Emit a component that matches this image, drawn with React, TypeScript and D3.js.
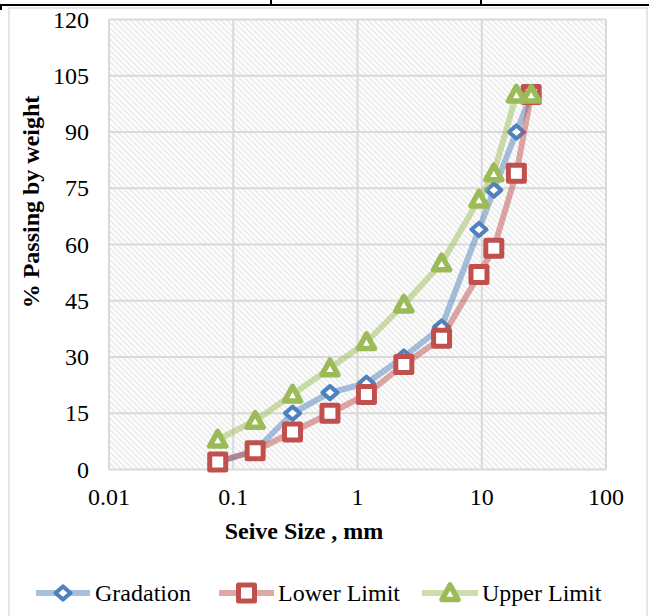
import React from "react";
import * as d3 from "d3";

const sieveSizes = [0.075, 0.15, 0.3, 0.6, 1.18, 2.36, 4.75, 9.5, 12.5, 19, 25];
const gradation = [2, 5, 15, 20.5, 23, 30, 38, 64, 74.5, 90, 100];
const lowerLimit = [2, 5, 10, 15, 20, 28, 35, 52, 59, 79, 100];
const upperLimit = [8, 13, 20, 27, 34, 44, 55, 72, 79, 100, 100];
const yTicks = [0, 15, 30, 45, 60, 75, 90, 105, 120];
const xTicks = [0.01, 0.1, 1, 10, 100];
const xTickLabels = ["0.01", "0.1", "1", "10", "100"];
const seriesNames = ["Gradation", "Lower Limit", "Upper Limit"];
const seriesColors = ["#4f81bd", "#c0504d", "#9bbb59"];
const seriesShapes = ["diamond", "square", "triangle"];

const W = 649;
const H = 616;
const plot = { left: 109, right: 606, top: 19.5, bottom: 469.5 };
const FONT = "'Liberation Serif', 'Times New Roman', serif";
const FS = 24;

function markerPath(shape: string, cx: number, cy: number): string {
  if (shape === "diamond") {
    const rx = 7.5;
    const ry = 6.5;
    return `M${cx},${cy - ry}L${cx + rx},${cy}L${cx},${cy + ry}L${cx - rx},${cy}Z`;
  }
  if (shape === "square") {
    const r = 8;
    return `M${cx - r},${cy - r}H${cx + r}V${cy + r}H${cx - r}Z`;
  }
  const hw = 8;
  return `M${cx},${cy - 8}L${cx + hw},${cy + 6.5}L${cx - hw},${cy + 6.5}Z`;
}

function markerStroke(shape: string): number {
  if (shape === "diamond") return 4.2;
  if (shape === "square") return 5;
  return 5.5;
}

export default function App() {
  const x = d3.scaleLog().domain([0.01, 100]).range([plot.left, plot.right]);
  const y = d3.scaleLinear().domain([0, 120]).range([plot.bottom, plot.top]);
  const allSeries = [gradation, lowerLimit, upperLimit];
  const line = d3
    .line<[number, number]>()
    .x((d) => x(d[0]))
    .y((d) => y(d[1]));

  const legendItems = [
    { x0: 36, x1: 90, tx: 95 },
    { x0: 219, x1: 274, tx: 278 },
    { x0: 422, x1: 478, tx: 482 },
  ];
  const legendY = 601;

  return (
    <svg width={W} height={H} style={{ position: "absolute", left: 0, top: 0 }}>
      <defs>
        <pattern id="hatch" width={4} height={4} patternUnits="userSpaceOnUse" patternTransform="rotate(45)">
          <rect width={4} height={4} fill="#ffffff" />
          <line x1={0} y1={2} x2={4} y2={2} stroke="#e6e6e6" strokeWidth={1.4} />
        </pattern>
      </defs>
      <rect x={0} y={0} width={W} height={H} fill="#ffffff" />
      {/* table borders above */}
      <line x1={0} y1={5} x2={W} y2={5} stroke="#000" strokeWidth={2} />
      <line x1={271} y1={0} x2={271} y2={5} stroke="#000" strokeWidth={2} />
      <line x1={481} y1={0} x2={481} y2={5} stroke="#000" strokeWidth={2} />
      <line x1={1} y1={5} x2={1} y2={10} stroke="#000" strokeWidth={2} />
      {/* chart frame */}
      <rect x={9} y={8} width={638} height={H} fill="none" stroke="#d9d9d9" strokeWidth={1.3} />

      {/* plot area */}
      <rect
        x={plot.left}
        y={plot.top}
        width={plot.right - plot.left}
        height={plot.bottom - plot.top}
        fill="url(#hatch)"
      />
      {yTicks.map((t) => (
        <line key={"gy" + t} x1={plot.left} x2={plot.right} y1={y(t)} y2={y(t)} stroke="#d9d9d9" strokeWidth={2} />
      ))}
      {xTicks.map((t) => (
        <line key={"gx" + t} x1={x(t)} x2={x(t)} y1={plot.top} y2={plot.bottom} stroke="#d9d9d9" strokeWidth={2} />
      ))}

      {/* tick labels */}
      {yTicks.map((t) => (
        <text key={"ty" + t} x={89} y={y(t) + 8} textAnchor="end" fontFamily={FONT} fontSize={FS} fill="#000">
          {t}
        </text>
      ))}
      {xTicks.map((t, i) => (
        <text key={"tx" + t} x={x(t)} y={505} textAnchor="middle" fontFamily={FONT} fontSize={FS} fill="#000">
          {xTickLabels[i]}
        </text>
      ))}

      {/* axis titles */}
      <text x={304} y={539} textAnchor="middle" fontFamily={FONT} fontSize={FS} fontWeight="bold" fill="#000">
        Seive Size , mm
      </text>
      <text
        transform={`translate(39,202) rotate(-90)`}
        textAnchor="middle"
        fontFamily={FONT}
        fontSize={FS}
        fontWeight="bold"
        fill="#000"
      >
        % Passing by weight
      </text>

      {/* series */}
      {allSeries.map((vals, si) => {
        const pts: [number, number][] = sieveSizes.map((s, i) => [s, vals[i]]);
        return (
          <g key={"s" + si}>
            <path
              d={line(pts) || ""}
              fill="none"
              stroke={seriesColors[si]}
              strokeOpacity={0.5}
              strokeWidth={6}
              strokeLinejoin="round"
            />
            {pts.map((p, i) => (
              <path
                key={i}
                d={markerPath(seriesShapes[si], x(p[0]), y(p[1]))}
                fill="#ffffff"
                stroke={seriesColors[si]}
                strokeWidth={markerStroke(seriesShapes[si])}
                strokeLinejoin="round"
              />
            ))}
          </g>
        );
      })}

      {/* legend */}
      {legendItems.map((li, si) => {
        const cx = (li.x0 + li.x1) / 2;
        return (
          <g key={"lg" + si}>
            <line
              x1={li.x0}
              x2={li.x1}
              y1={legendY - 8}
              y2={legendY - 8}
              stroke={seriesColors[si]}
              strokeOpacity={0.5}
              strokeWidth={6}
            />
            <path
              d={markerPath(seriesShapes[si], cx, legendY - 8)}
              fill="#ffffff"
              stroke={seriesColors[si]}
              strokeWidth={markerStroke(seriesShapes[si])}
              strokeLinejoin="round"
            />
            <text x={li.tx} y={legendY} fontFamily={FONT} fontSize={FS} fill="#000">
              {seriesNames[si]}
            </text>
          </g>
        );
      })}
    </svg>
  );
}
